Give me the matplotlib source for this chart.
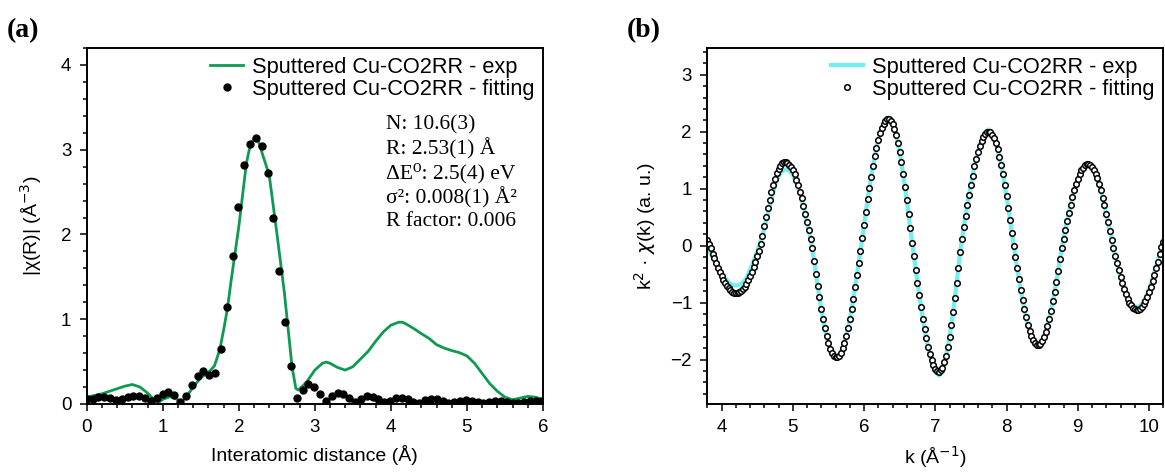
import numpy as np
import matplotlib
matplotlib.use("Agg")
import matplotlib.pyplot as plt
from matplotlib.ticker import MultipleLocator

plt.rcParams['font.family'] = ['Liberation Sans', 'DejaVu Sans']
plt.rcParams['mathtext.fontset'] = 'dejavusans'

# ---- panel (a): |chi(R)| ----
r_exp = [0.0, 0.1, 0.2, 0.3, 0.4, 0.5, 0.6, 0.7, 0.8, 0.9,
         0.95, 1.0, 1.1, 1.2, 1.25, 1.3, 1.4, 1.5, 1.6, 1.68,
         1.75, 1.8, 1.85, 1.9, 2.0, 2.1, 2.15, 2.2, 2.25, 2.3,
         2.4, 2.5, 2.6, 2.7, 2.75, 2.78, 2.85, 2.9, 3.0, 3.1,
         3.15, 3.2, 3.3, 3.4, 3.5, 3.6, 3.7, 3.8, 3.9, 4.0,
         4.1, 4.15, 4.2, 4.3, 4.4, 4.5, 4.6, 4.7, 4.8, 4.9,
         5.0, 5.1, 5.2, 5.3, 5.4, 5.5, 5.6, 5.7, 5.8, 5.9, 6.0]
chir_exp = [0.08, 0.10, 0.12, 0.15, 0.18, 0.21, 0.23, 0.20, 0.13, 0.04,
            0.02, 0.055, 0.087, 0.05, 0.025, 0.07, 0.20, 0.31, 0.37, 0.45,
            0.64, 0.87, 1.12, 1.46, 2.09, 2.84, 3.05, 3.13, 3.12, 2.98,
            2.70, 2.02, 1.31, 0.44, 0.185, 0.165, 0.22, 0.27, 0.40, 0.48,
            0.495, 0.48, 0.43, 0.40, 0.44, 0.53, 0.62, 0.74, 0.85, 0.93,
            0.964, 0.965, 0.944, 0.89, 0.83, 0.775, 0.70, 0.66, 0.63, 0.606,
            0.567, 0.48, 0.36, 0.24, 0.15, 0.08, 0.05, 0.07, 0.09, 0.08, 0.055]

chir_fit = [0.063, 0.063, 0.079, 0.079, 0.067, 0.051, 0.055, 0.079, 0.094, 0.094,
            0.071, 0.039, 0.067, 0.114, 0.138, 0.106, 0.028, 0.090, 0.224, 0.335,
            0.386, 0.346, 0.362, 0.646, 1.14, 1.74, 2.32, 2.82, 3.07, 3.14,
            3.04, 2.72, 2.19, 1.57, 0.97, 0.45, 0.067, 0.165, 0.236, 0.205,
            0.114, 0.039, 0.094, 0.134, 0.118, 0.067, 0.028, 0.059, 0.094, 0.087,
            0.055, 0.028, 0.039, 0.071, 0.075, 0.059, 0.028, 0.016, 0.047, 0.055,
            0.055, 0.039, 0.016, 0.020, 0.039, 0.047, 0.039, 0.020, 0.008, 0.024,
            0.035, 0.035, 0.024, 0.016, 0.016, 0.028, 0.031, 0.031, 0.035]
r_fit = np.arange(len(chir_fit)) * 0.0767

fit_params = ["N: 10.6(3)", "R: 2.53(1) Å", "ΔE⁰: 2.5(4) eV",
              "σ²: 0.008(1) Å²", "R factor: 0.006"]

# ---- panel (b): k^2 chi(k) ----
k_exp = np.round(np.arange(3.8, 10.2001, 0.05), 2)
chik_exp = [-0.02, -0.14, -0.26, -0.38, -0.48, -0.57, -0.64, -0.69, -0.70, -0.69,
            -0.65, -0.57, -0.43, -0.27, -0.10, 0.08, 0.30, 0.56, 0.82, 1.05,
            1.22, 1.31, 1.34, 1.32, 1.24, 1.11, 0.93, 0.69, 0.42, 0.12,
            -0.27, -0.71, -1.11, -1.45, -1.71, -1.89, -1.96, -1.93, -1.80, -1.59,
            -1.29, -0.93, -0.52, -0.09, 0.36, 0.81, 1.21, 1.57, 1.86, 2.07,
            2.22, 2.25, 2.17, 1.95, 1.64, 1.25, 0.80, 0.31, -0.19, -0.65,
            -1.08, -1.47, -1.80, -2.04, -2.21, -2.28, -2.20, -1.96, -1.61, -1.17,
            -0.66, -0.11, 0.32, 0.71, 1.07, 1.39, 1.66, 1.86, 1.99, 2.04,
            1.98, 1.81, 1.56, 1.25, 0.87, 0.45, 0.00, -0.40, -0.78, -1.11,
            -1.39, -1.59, -1.71, -1.74, -1.67, -1.52, -1.29, -0.98, -0.63, -0.24,
            0.12, 0.43, 0.72, 0.97, 1.17, 1.32, 1.41, 1.43, 1.38, 1.26,
            1.08, 0.84, 0.56, 0.26, -0.05, -0.31, -0.54, -0.74, -0.90, -1.01,
            -1.07, -1.08, -1.03, -0.92, -0.77, -0.58, -0.37, -0.14, 0.08]

k_fit = np.round(np.arange(3.8, 10.2001, 0.025), 3)
chik_fit = [0.10, 0.03, -0.05, -0.14, -0.22, -0.31, -0.39, -0.46, -0.53, -0.60,
            -0.65, -0.70, -0.75, -0.78, -0.81, -0.83, -0.83, -0.83, -0.82, -0.80,
            -0.76, -0.72, -0.67, -0.60, -0.53, -0.46, -0.37, -0.28, -0.19, -0.10,
            0.03, 0.17, 0.34, 0.50, 0.66, 0.80, 0.94, 1.06, 1.17, 1.27,
            1.35, 1.40, 1.45, 1.47, 1.47, 1.45, 1.42, 1.38, 1.32, 1.25,
            1.16, 1.06, 0.95, 0.83, 0.70, 0.56, 0.42, 0.27, 0.12, -0.05,
            -0.27, -0.49, -0.71, -0.91, -1.11, -1.29, -1.45, -1.59, -1.71, -1.81,
            -1.89, -1.93, -1.96, -1.96, -1.93, -1.88, -1.80, -1.71, -1.59, -1.45,
            -1.29, -1.12, -0.93, -0.73, -0.52, -0.31, -0.09, 0.14, 0.36, 0.59,
            0.81, 1.02, 1.21, 1.40, 1.57, 1.72, 1.86, 1.97, 2.07, 2.14,
            2.19, 2.22, 2.22, 2.19, 2.14, 2.05, 1.94, 1.80, 1.64, 1.46,
            1.25, 1.03, 0.80, 0.56, 0.31, 0.05, -0.19, -0.42, -0.65, -0.87,
            -1.08, -1.28, -1.46, -1.63, -1.78, -1.90, -2.01, -2.10, -2.16, -2.20,
            -2.21, -2.19, -2.14, -2.05, -1.93, -1.78, -1.60, -1.40, -1.17, -0.92,
            -0.66, -0.39, -0.11, 0.12, 0.32, 0.52, 0.71, 0.89, 1.07, 1.23,
            1.39, 1.52, 1.65, 1.75, 1.84, 1.91, 1.96, 1.99, 2.00, 1.99,
            1.95, 1.89, 1.80, 1.69, 1.56, 1.41, 1.25, 1.06, 0.87, 0.66,
            0.45, 0.22, 0.00, -0.20, -0.40, -0.59, -0.78, -0.95, -1.11, -1.26,
            -1.39, -1.50, -1.59, -1.66, -1.71, -1.74, -1.74, -1.72, -1.67, -1.61,
            -1.52, -1.41, -1.29, -1.14, -0.98, -0.81, -0.63, -0.44, -0.24, -0.04,
            0.12, 0.28, 0.43, 0.58, 0.72, 0.85, 0.97, 1.08, 1.17, 1.25,
            1.32, 1.37, 1.41, 1.43, 1.43, 1.41, 1.38, 1.33, 1.26, 1.18,
            1.08, 0.97, 0.84, 0.71, 0.56, 0.41, 0.26, 0.10, -0.05, -0.18,
            -0.31, -0.43, -0.55, -0.66, -0.76, -0.85, -0.93, -1.00, -1.05, -1.09,
            -1.12, -1.13, -1.13, -1.11, -1.07, -1.03, -0.97, -0.90, -0.82, -0.72,
            -0.62, -0.51, -0.40, -0.28, -0.15, -0.03, 0.07]

label = "Sputtered Cu-CO2RR"
serif = ['Liberation Serif', 'DejaVu Serif']

fig = plt.figure(figsize=(11.65, 4.75), dpi=100)
ax1 = fig.add_axes([0.0744, 0.1495, 0.3917, 0.7495])
ax2 = fig.add_axes([0.6071, 0.1495, 0.3914, 0.7495])


def style(ax):
    for s in ax.spines.values():
        s.set_linewidth(1.4)
    ax.tick_params(which='both', direction='out', top=False, right=False,
                   labelsize=13.5, width=1.1, pad=6)
    ax.tick_params(which='major', length=5)
    ax.tick_params(which='minor', length=3)


ax1.plot(r_exp, chir_exp, color='#0E9A50', lw=2.0, label=label + " - exp")
ax1.plot(r_fit, chir_fit, 'o', color='black', ms=5, label=label + " - fitting")
ax1.set_xlim(0, 6)
ax1.set_ylim(0, 4.2)
ax1.xaxis.set_major_locator(MultipleLocator(1))
ax1.xaxis.set_minor_locator(MultipleLocator(0.2))
ax1.yaxis.set_major_locator(MultipleLocator(1))
ax1.yaxis.set_minor_locator(MultipleLocator(0.2))
style(ax1)
ax1.set_xlabel("Interatomic distance (Å)", fontsize=14, labelpad=6)
ax1.set_ylabel("|χ(R)| (Å$^{-3}$)", fontsize=14, labelpad=12)
ax1.legend(loc='upper right', frameon=False, fontsize=15.7, handlelength=1.5,
           handletextpad=0.4, labelspacing=0.05, borderaxespad=0.0)
ax1.text(0.655, 0.81, "\n".join(fit_params), transform=ax1.transAxes,
         family=serif, fontsize=15.5, va='top', ha='left',
         linespacing=1.22)
ax1.text(-0.14, 1.05, "(a)", transform=ax1.transAxes, family=serif,
         fontsize=20, fontweight='bold', va='center', ha='center')

ax2.plot(k_exp, chik_exp, color='#70F0F0', lw=3.0, label=label + " - exp")
ax2.plot(k_fit, chik_fit, 'o', mfc='white', mec='black', mew=1.1, ms=4,
         label=label + " - fitting")
ax2.set_xlim(3.8, 10.2)
ax2.set_ylim(-2.78, 3.47)
ax2.xaxis.set_major_locator(MultipleLocator(1))
ax2.xaxis.set_minor_locator(MultipleLocator(0.2))
ax2.yaxis.set_major_locator(MultipleLocator(1))
ax2.yaxis.set_minor_locator(MultipleLocator(0.2))
style(ax2)
ax2.set_xlabel("k (Å$^{-1}$)", fontsize=14, labelpad=6)
ax2.set_ylabel("k$^2$ · $\\chi$(k) (a. u.)", fontsize=14, labelpad=9)
ax2.legend(loc='upper right', frameon=False, fontsize=15.7, handlelength=1.5,
           handletextpad=0.4, labelspacing=0.05, borderaxespad=0.0)
ax2.text(-0.14, 1.05, "(b)", transform=ax2.transAxes, family=serif,
         fontsize=20, fontweight='bold', va='center', ha='center')

fig.savefig("out.png", dpi=100)
